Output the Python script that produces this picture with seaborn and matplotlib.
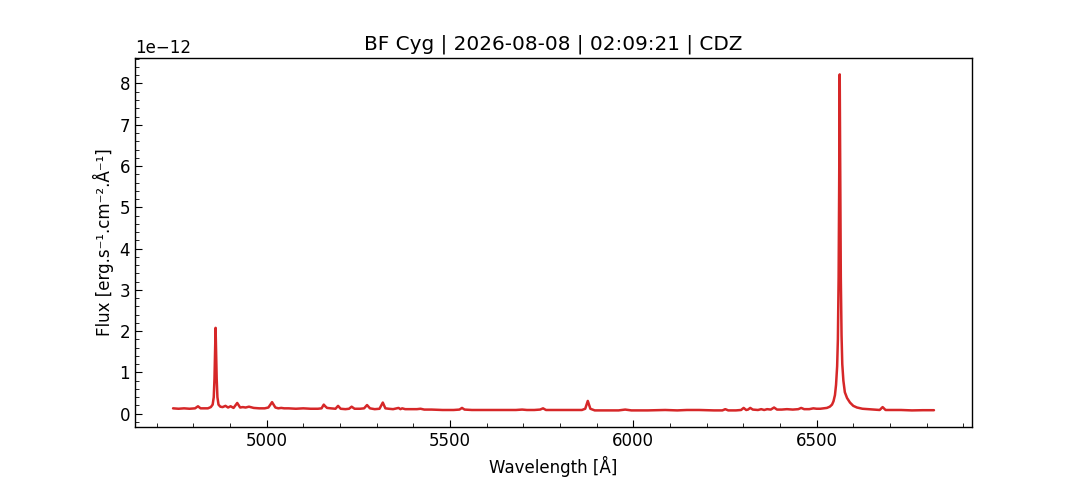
import matplotlib
matplotlib.use("Agg")
import matplotlib.pyplot as plt
from matplotlib.ticker import AutoMinorLocator
import seaborn as sns
import pandas as pd
import numpy as np

# ---- data (flux in units of 1e-12 erg/s/cm2/A) ----
wavelength = [
    4745, 4760, 4775, 4790, 4805, 4813, 4820, 4830, 4840, 4848,
    4853, 4856, 4858, 4859.5, 4861, 4862.5, 4864, 4866, 4869, 4874,
    4880, 4888, 4895, 4902, 4910, 4920, 4928, 4935, 4943, 4952,
    4965, 4980, 4995, 5005, 5015, 5024, 5032, 5040, 5048, 5060,
    5080, 5100, 5120, 5140, 5150, 5156, 5160, 5165, 5175, 5188,
    5195, 5202, 5215, 5225, 5232, 5240, 5255, 5266, 5274, 5282,
    5295, 5308, 5317, 5324, 5333, 5345, 5360, 5365, 5370, 5378,
    5395, 5410, 5420, 5430, 5450, 5480, 5510, 5526, 5533, 5540,
    5560, 5600, 5640, 5680, 5697, 5710, 5730, 5746, 5754, 5762,
    5790, 5830, 5860, 5869, 5876, 5883, 5895, 5930, 5960, 5978,
    5995, 6040, 6087, 6120, 6146, 6180, 6220, 6243, 6251, 6259,
    6280, 6294, 6301, 6308, 6313, 6319, 6326, 6340, 6349, 6357,
    6365, 6375, 6384, 6392, 6405, 6419, 6435, 6450, 6458, 6466,
    6480, 6491, 6500, 6510, 6519, 6528, 6536, 6542, 6546, 6550,
    6553, 6556, 6558, 6560, 6561.5, 6563, 6564.5, 6566, 6568, 6570,
    6573, 6577, 6583, 6591, 6600, 6610, 6625, 6640, 6655, 6672,
    6680, 6688, 6705, 6730, 6760, 6790, 6820,
]
flux = [
    0.13, 0.12, 0.13, 0.12, 0.13, 0.18, 0.13, 0.13, 0.13, 0.16,
    0.22, 0.40, 0.85, 1.50, 2.08, 1.50, 0.85, 0.40, 0.22, 0.17,
    0.16, 0.19, 0.15, 0.18, 0.14, 0.26, 0.15, 0.16, 0.15, 0.17,
    0.14, 0.13, 0.13, 0.15, 0.28, 0.15, 0.13, 0.14, 0.13, 0.13,
    0.12, 0.13, 0.12, 0.12, 0.13, 0.22, 0.18, 0.14, 0.13, 0.12,
    0.19, 0.12, 0.11, 0.12, 0.17, 0.12, 0.12, 0.13, 0.21, 0.13,
    0.11, 0.12, 0.27, 0.13, 0.12, 0.11, 0.14, 0.11, 0.13, 0.11,
    0.11, 0.11, 0.12, 0.10, 0.10, 0.09, 0.09, 0.10, 0.14, 0.10,
    0.09, 0.09, 0.09, 0.09, 0.10, 0.09, 0.09, 0.10, 0.13, 0.09,
    0.09, 0.09, 0.09, 0.12, 0.31, 0.12, 0.08, 0.08, 0.08, 0.10,
    0.08, 0.08, 0.09, 0.08, 0.09, 0.09, 0.08, 0.08, 0.11, 0.08,
    0.08, 0.09, 0.14, 0.09, 0.10, 0.14, 0.10, 0.09, 0.11, 0.09,
    0.11, 0.10, 0.15, 0.10, 0.10, 0.11, 0.10, 0.11, 0.14, 0.11,
    0.11, 0.13, 0.12, 0.12, 0.13, 0.14, 0.17, 0.22, 0.30, 0.45,
    0.70, 1.15, 1.80, 3.30, 5.50, 8.22, 5.50, 3.30, 1.90, 1.20,
    0.80, 0.52, 0.38, 0.27, 0.19, 0.15, 0.12, 0.11, 0.10, 0.09,
    0.16, 0.09, 0.09, 0.09, 0.08, 0.085, 0.085,
]
FLUX_UNIT = 1e-12

title = "BF Cyg | 2026-08-08 | 02:09:21 | CDZ"
xlabel = "Wavelength [Å]"
ylabel = "Flux [erg.s⁻¹.cm⁻².Å⁻¹]"

df = pd.DataFrame({"wavelength": wavelength,
                   "flux": np.array(flux) * FLUX_UNIT})

sns.set_style("ticks", {"text.color": "black", "axes.labelcolor": "black",
                        "xtick.color": "black", "ytick.color": "black",
                        "axes.edgecolor": "black"})
plt.rcParams["font.family"] = ["DejaVu Sans"]
plt.rcParams["font.size"] = 12

fig, ax = plt.subplots(figsize=(10.8, 4.8), dpi=100)
sns.lineplot(data=df, x="wavelength", y="flux", ax=ax,
             color="#d62728", linewidth=1.8, sort=False)

ax.set_title(title, fontsize=14.4, color="black")
ax.set_xlabel(xlabel, fontsize=12, color="black")
ax.set_ylabel(ylabel, fontsize=12, color="black")
ax.xaxis.set_minor_locator(AutoMinorLocator())
ax.yaxis.set_minor_locator(AutoMinorLocator())
ax.tick_params(which="both", direction="in", labelsize=12, colors="black")
ax.tick_params(which="major", length=5)
ax.tick_params(which="minor", length=3)
ax.set_xticks([5000, 5500, 6000, 6500])
ax.yaxis.get_offset_text().set_fontsize(12)
ax.yaxis.get_offset_text().set_color("black")
for s in ax.spines.values():
    s.set_visible(True)
    s.set_color("black")
    s.set_linewidth(1.0)

fig.savefig("out.png", dpi=100)
